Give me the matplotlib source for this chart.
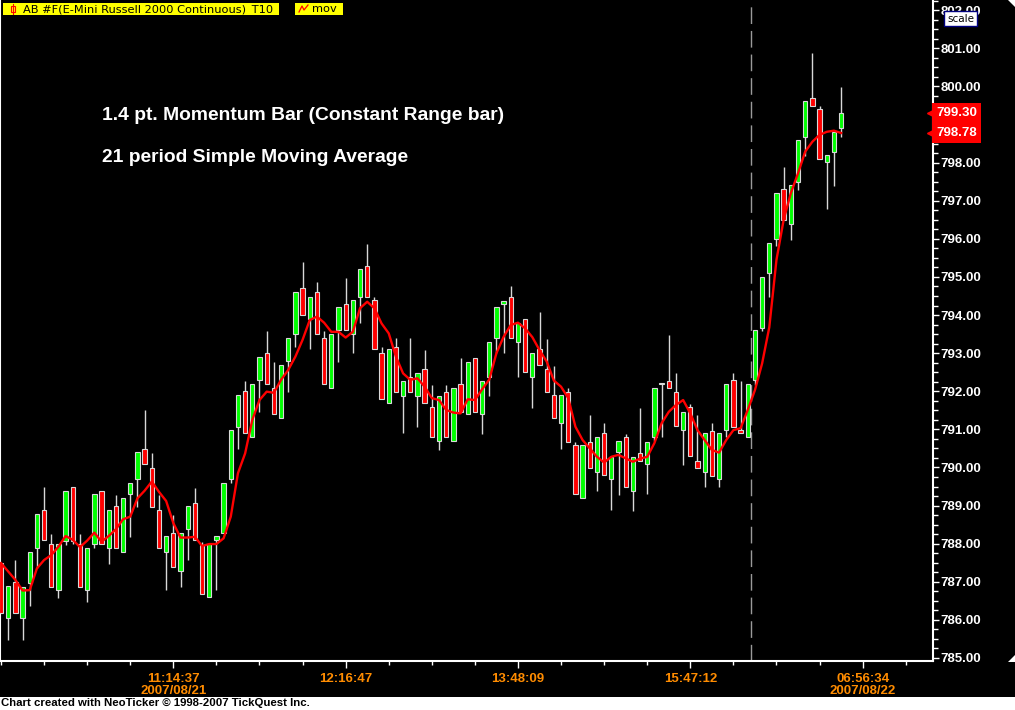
import matplotlib
matplotlib.use('Agg')
import matplotlib.pyplot as plt
from matplotlib.patches import Rectangle, Polygon

# momentum bars (one bar per index)
opens = [787.49, 786.06, 786.99, 786.06, 786.98, 787.88, 788.88, 787.98, 786.78, 788.07,
         789.48, 787.98, 786.78, 787.98, 789.38, 787.88, 788.98, 787.77, 789.30, 789.70,
         790.49, 789.98, 788.88, 787.77, 788.27, 787.27, 788.38, 789.08, 787.97, 786.59,
         788.10, 788.27, 789.69, 791.07, 792.01, 790.79, 792.30, 793.00, 792.08, 791.30,
         792.79, 793.50, 794.70, 793.89, 794.60, 793.39, 792.08, 793.61, 794.28, 793.50,
         794.48, 795.29, 794.39, 793.00, 791.69, 793.17, 791.88, 792.38, 791.88, 792.58,
         791.58, 790.69, 791.99, 790.69, 792.18, 791.40, 792.88, 791.40, 792.38, 793.39,
         794.29, 794.48, 793.29, 793.89, 792.38, 793.10, 792.58, 791.90, 791.18, 791.99,
         790.59, 789.19, 790.68, 789.87, 790.90, 789.69, 790.40, 790.79, 789.37, 790.39,
         790.08, 790.79, 792.18, 792.28, 791.99, 790.98, 791.58, 790.18, 789.87, 790.97,
         789.69, 790.98, 792.29, 790.98, 790.79, 792.30, 793.67, 795.10, 795.99, 797.30,
         796.39, 797.49, 798.68, 799.69, 799.40, 798.01, 798.29, 798.90]
highs = [787.50, 786.89, 787.57, 786.87, 787.77, 788.78, 789.50, 788.25, 787.98, 789.38,
         789.48, 788.25, 787.88, 789.30, 789.38, 788.88, 789.28, 789.19, 789.59, 790.40,
         791.51, 790.37, 789.28, 788.20, 788.75, 788.27, 788.99, 789.45, 788.05, 787.99,
         788.20, 789.59, 790.98, 791.90, 792.28, 792.18, 792.89, 793.59, 792.77, 792.68,
         793.39, 794.60, 795.38, 794.48, 794.88, 793.59, 793.50, 794.20, 794.97, 794.39,
         795.20, 795.87, 794.48, 793.17, 793.10, 793.39, 792.28, 793.39, 792.49, 793.08,
         792.17, 791.88, 792.17, 792.08, 792.87, 792.78, 792.88, 792.28, 793.29, 794.20,
         794.38, 794.76, 793.78, 793.89, 793.00, 794.09, 793.36, 792.66, 791.90, 792.08,
         790.68, 790.59, 791.38, 790.79, 791.16, 790.28, 790.69, 790.88, 790.28, 791.55,
         790.68, 792.08, 792.20, 793.48, 792.47, 791.46, 791.67, 791.38, 790.90, 791.16,
         790.90, 792.18, 792.47, 792.27, 792.18, 793.61, 794.99, 795.88, 797.20, 797.88,
         797.41, 798.59, 799.61, 800.88, 799.49, 798.19, 798.80, 799.98]
lows = [786.17, 785.47, 786.17, 785.47, 786.36, 787.37, 788.09, 786.87, 786.58, 787.97,
        787.99, 786.87, 786.48, 787.88, 787.98, 787.47, 787.88, 787.77, 788.18, 788.97,
        790.08, 788.97, 787.88, 786.78, 787.38, 786.87, 787.57, 788.10, 786.68, 786.59,
        786.78, 788.27, 789.60, 790.48, 790.90, 790.79, 791.46, 792.19, 791.40, 791.30,
        791.99, 793.17, 793.99, 793.10, 793.50, 792.19, 792.08, 792.78, 793.61, 793.00,
        793.78, 794.48, 793.10, 791.79, 791.69, 791.99, 790.90, 791.99, 791.07, 791.69,
        790.79, 790.46, 790.79, 790.69, 791.46, 791.40, 791.46, 790.88, 791.88, 793.00,
        793.00, 793.39, 792.38, 792.50, 791.57, 792.69, 791.99, 791.29, 790.48, 790.68,
        789.30, 789.19, 789.98, 789.37, 789.80, 788.88, 789.28, 789.48, 788.87, 790.18,
        789.30, 790.70, 790.79, 792.08, 791.09, 790.07, 790.30, 789.98, 789.48, 789.78,
        789.48, 790.81, 791.07, 790.90, 790.79, 792.17, 793.59, 794.48, 795.80, 796.50,
        795.97, 797.28, 798.18, 799.50, 798.09, 796.79, 797.40, 798.68]
closes = [786.17, 786.89, 786.17, 786.87, 787.77, 788.78, 788.09, 786.87, 787.98, 789.38,
          788.08, 786.87, 787.88, 789.30, 787.98, 788.88, 787.88, 789.19, 789.59, 790.40,
          790.08, 788.97, 787.88, 788.20, 787.38, 788.27, 788.99, 788.10, 786.68, 787.99,
          788.20, 789.59, 790.98, 791.90, 790.90, 792.18, 792.89, 792.19, 791.40, 792.68,
          793.39, 794.60, 793.99, 794.48, 793.50, 792.19, 793.50, 794.20, 793.61, 794.39,
          795.20, 794.48, 793.10, 791.79, 793.10, 791.99, 792.28, 791.99, 792.49, 791.69,
          790.79, 791.88, 790.79, 792.08, 791.46, 792.78, 791.46, 792.28, 793.29, 794.20,
          794.38, 793.39, 793.78, 792.50, 793.00, 792.69, 791.99, 791.29, 791.90, 790.68,
          789.30, 790.59, 789.98, 790.79, 789.80, 790.28, 790.69, 789.48, 790.28, 790.18,
          790.68, 792.08, 792.18, 792.08, 791.09, 791.46, 790.30, 789.98, 790.90, 789.78,
          790.90, 792.18, 791.07, 790.90, 792.18, 793.61, 794.99, 795.88, 797.20, 796.50,
          797.41, 798.59, 799.61, 799.50, 798.09, 798.19, 798.80, 799.30]

# 21 period simple moving average (red line)
sma = [787.49, 787.27, 787.05, 786.77, 786.78, 787.35, 787.57, 787.70, 787.92, 788.20,
       788.10, 787.91, 788.08, 788.29, 788.05, 788.20, 788.38, 788.64, 788.71, 789.19,
       789.39, 789.63, 789.36, 789.12, 788.54, 788.16, 788.16, 788.18, 787.94, 787.99,
       787.99, 788.14, 788.71, 789.85, 790.37, 791.25, 791.77, 791.99, 791.96, 792.30,
       792.56, 792.91, 793.35, 793.87, 793.96, 793.80, 793.56, 793.56, 793.41, 793.56,
       794.18, 794.35, 794.18, 793.78, 793.52, 792.91, 792.47, 792.30, 792.34, 792.12,
       791.82, 791.77, 791.51, 791.44, 791.42, 791.79, 791.77, 792.05, 792.31, 793.00,
       793.43, 793.74, 793.80, 793.65, 793.42, 793.08, 792.78, 792.28, 792.12, 791.82,
       791.07, 790.72, 790.50, 790.28, 790.13, 790.28, 790.33, 790.24, 790.15, 790.23,
       790.28, 790.64, 791.16, 791.46, 791.64, 791.77, 791.42, 790.98, 790.72, 790.46,
       790.39, 790.72, 790.98, 791.03, 791.51, 792.03, 792.73, 793.68, 795.45, 796.50,
       797.20, 797.72, 798.29, 798.55, 798.73, 798.81, 798.84, 798.78]

time_ticks = [24, 48, 72, 96, 120]
time_labels = ['11:14:37\n2007/08/21', '12:16:47', '13:48:09', '15:47:12', '06:56:34\n2007/08/22']
day_break = 104.45
last_price = 799.30
last_sma = 798.78

W, H = 1015, 710
def fpos(x, y):
    return x / W, 1 - y / H

fig = plt.figure(figsize=(W / 100, H / 100), dpi=100, facecolor='black')
ax = fig.add_axes([0, 49 / H, 933 / W, 661 / H])
ax.set_facecolor('black')

n = len(closes)
idx = list(range(n))
bottoms = [min(o, c) for o, c in zip(opens, closes)]
heights = [max(abs(c - o), 0.03) for o, c in zip(opens, closes)]
colors = ['#00ff00' if c >= o else '#ff0000' for o, c in zip(opens, closes)]

ax.vlines(idx, lows, highs, color='#d8d8d8', lw=1, zorder=2)
ax.bar(idx, heights, bottom=bottoms, width=0.6, color=colors,
       edgecolor='#d8d8d8', linewidth=0.8, zorder=3)
ax.plot(idx, sma, color='#ff0000', lw=1.7, zorder=4)

ax.axvline(day_break, color='#9a9a9a', lw=1, linestyle=(0, (12, 5)), zorder=1)

ax.set_xlim(-0.14, 129.8)
ax.set_ylim(784.92, 802.27)

# right price axis
ax.yaxis.tick_right()
yt = list(range(785, 803))
ax.set_yticks(yt, labels=['%.2f' % v for v in yt], color='white', fontsize=9.5,
              fontweight='bold', family='Liberation Sans')
ax.set_yticks([785 + 0.25 * k for k in range(70)], minor=True)
ax.tick_params(axis='y', which='major', colors='white', length=4, width=1, pad=1.5)
ax.tick_params(axis='y', which='minor', colors='white', length=3.5, width=1)

# time axis
ax.set_xticks(time_ticks, labels=time_labels, color='#ff8c00', fontsize=9.5,
              fontweight='bold', family='Liberation Sans', linespacing=1.05)
ax.set_xticks(list(range(0, 130, 6)), minor=True)
ax.tick_params(axis='x', which='major', colors='white', labelcolor='#ff8c00',
               length=5, width=1, pad=3.5)
ax.tick_params(axis='x', which='minor', colors='white', length=3, width=1)

for s in ['left', 'bottom', 'right']:
    ax.spines[s].set_color('white')
    ax.spines[s].set_linewidth(1.5)
ax.spines['top'].set_visible(False)

# last value tags
for val in [last_price, last_sma]:
    ax.text(1.0035, val, '%.2f' % val, transform=ax.get_yaxis_transform(),
            ha='left', va='center', color='white', fontsize=9.5, fontweight='bold',
            family='Liberation Sans', zorder=10, clip_on=False,
            bbox=dict(boxstyle='square,pad=0.3', fc='#ff0000', ec='none'))
    ax.plot([0.9965], [val], marker='<', color='#ff0000', markersize=5,
            transform=ax.get_yaxis_transform(), clip_on=False, zorder=10)

# header boxes
fig.patches.append(Rectangle(fpos(3, 15), 276 / W, 12 / H, transform=fig.transFigure,
                             fc='#ffff00', ec='none'))
fig.patches.append(Rectangle(fpos(295, 15), 48 / W, 12 / H, transform=fig.transFigure,
                             fc='#ffff00', ec='none'))
fig.patches.append(Rectangle(fpos(11, 12), 4 / W, 6 / H, transform=fig.transFigure,
                             fc='none', ec='#ff0000', lw=0.8))
fig.lines.append(plt.Line2D([13 / W, 13 / W], [1 - 4 / H, 1 - 14 / H],
                            transform=fig.transFigure, color='#ff0000', lw=0.8))
zz = [(299, 12), (302, 6), (304, 10), (308, 5)]
fig.lines.append(plt.Line2D([p[0] / W for p in zz], [1 - p[1] / H for p in zz],
                            transform=fig.transFigure, color='#ff0000', lw=0.9))
fig.text(*fpos(23, 9.5), 'AB #F(E-Mini Russell 2000 Continuous)_T10', color='black',
         fontsize=8.2, va='center', ha='left')
fig.text(*fpos(312, 9.5), 'mov', color='black', fontsize=8.2, va='center', ha='left')

# scale button
fig.text(*fpos(947, 18.5), 'scale', color='black', fontsize=7.5, va='center', ha='left',
         bbox=dict(boxstyle='square,pad=0.25', fc='white', ec='#000080', lw=1))

# annotations on the chart
fig.text(*fpos(102, 115), '1.4 pt. Momentum Bar (Constant Range bar)', color='white',
         fontsize=13.9, fontweight='bold', family='Liberation Sans', va='center')
fig.text(*fpos(102, 158), '21 period Simple Moving Average', color='white',
         fontsize=13.9, fontweight='bold', family='Liberation Sans', va='center')

# corner marks
fig.patches.append(Polygon([fpos(1008, 0), fpos(1015, 0), fpos(1015, 7)], closed=True,
                           transform=fig.transFigure, fc='white', ec='none'))
fig.patches.append(Polygon([fpos(1015, 655), fpos(1015, 662), fpos(1008, 662)], closed=True,
                           transform=fig.transFigure, fc='white', ec='none'))

# footer strip
fig.patches.append(Rectangle(fpos(0, 710), 1, 13 / H, transform=fig.transFigure,
                             fc='white', ec='none'))
fig.text(*fpos(1, 703.5), 'Chart created with NeoTicker \u00a9 1998-2007 TickQuest Inc.',
         color='black', fontsize=8.2, fontweight='bold', family='Liberation Sans',
         va='center', ha='left')

fig.savefig('out.png', dpi=100, facecolor='black')
